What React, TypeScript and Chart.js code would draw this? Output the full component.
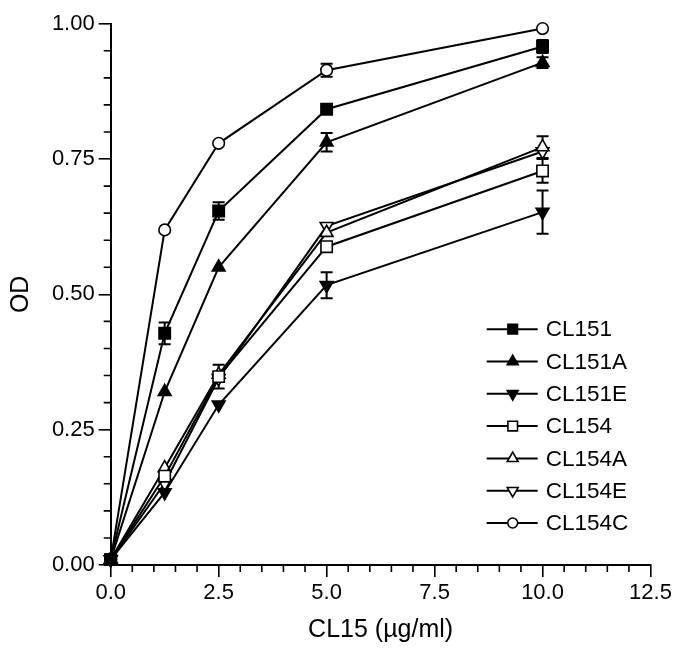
import { useEffect, useRef } from 'react';
import { Chart, registerables } from 'chart.js';
import { drawPoint } from 'chart.js/helpers';

Chart.register(...registerables);

// ---- data ----
const concentrations = [0, 1.25, 2.5, 5, 10];
const seriesNames = ['CL151', 'CL151A', 'CL151E', 'CL154', 'CL154A', 'CL154E', 'CL154C'];

const cl151 = [0.01, 0.428, 0.654, 0.842, 0.958];
const cl151Err = [0, 0.02, 0.016, 0.005, 0.012];
const cl151A = [0.01, 0.32, 0.55, 0.781, 0.928];
const cl151AErr = [0, 0, 0, 0.017, 0.01];
const cl151E = [0.01, 0.134, 0.296, 0.517, 0.652];
const cl151EErr = [0, 0, 0, 0.024, 0.04];
const cl154 = [0.01, 0.164, 0.348, 0.588, 0.728];
const cl154Err = [0, 0.01, 0.022, 0, 0.022];
const cl154A = [0.01, 0.179, 0.352, 0.614, 0.772];
const cl154AErr = [0, 0, 0, 0, 0.02];
const cl154E = [0.01, 0.151, 0.345, 0.626, 0.764];
const cl154EErr = [0, 0, 0, 0, 0];
const cl154C = [0.01, 0.619, 0.779, 0.914, 0.991];
const cl154CErr = [0, 0, 0, 0.012, 0];

const xTickLabels = ['0.0', '2.5', '5.0', '7.5', '10.0', '12.5'];
const yTickLabels = ['0.00', '0.25', '0.50', '0.75', '1.00'];

const seriesValues = [cl151, cl151A, cl151E, cl154, cl154A, cl154E, cl154C];
const seriesErrors = [cl151Err, cl151AErr, cl151EErr, cl154Err, cl154AErr, cl154EErr, cl154CErr];

// ---- styles ----
const markerStyles = [
  { pointStyle: 'rect', fill: '#000', rotation: 0, radius: 8 },
  { pointStyle: 'triangle', fill: '#000', rotation: 0, radius: 7.4 },
  { pointStyle: 'triangle', fill: '#000', rotation: 180, radius: 7.4 },
  { pointStyle: 'rect', fill: '#fff', rotation: 0, radius: 8 },
  { pointStyle: 'triangle', fill: '#fff', rotation: 0, radius: 7.4 },
  { pointStyle: 'triangle', fill: '#fff', rotation: 180, radius: 7.4 },
  { pointStyle: 'circle', fill: '#fff', rotation: 0, radius: 5.8 },
];

const FONT = 'Liberation Sans, Arial, Helvetica, sans-serif';
const LINE_W = 2;

const errorBarPlugin = {
  id: 'errorBars',
  beforeDatasetsDraw(chart: any) {
    const ctx = chart.ctx;
    const xs = chart.scales.x;
    const ys = chart.scales.y;
    ctx.save();
    ctx.strokeStyle = '#000';
    ctx.lineWidth = LINE_W;
    seriesValues.forEach((vals, i) => {
      vals.forEach((v, j) => {
        const e = seriesErrors[i][j];
        if (!e) return;
        const x = xs.getPixelForValue(concentrations[j]);
        const yTop = ys.getPixelForValue(v + e);
        const yBot = ys.getPixelForValue(v - e);
        ctx.beginPath();
        ctx.moveTo(x, yTop);
        ctx.lineTo(x, yBot);
        ctx.moveTo(x - 6, yTop);
        ctx.lineTo(x + 6, yTop);
        ctx.moveTo(x - 6, yBot);
        ctx.lineTo(x + 6, yBot);
        ctx.stroke();
      });
    });
    ctx.restore();
  },
};

const minorTickPlugin = {
  id: 'minorTicks',
  afterDraw(chart: any) {
    const ctx = chart.ctx;
    const xs = chart.scales.x;
    const ys = chart.scales.y;
    const { left, bottom } = chart.chartArea;
    ctx.save();
    ctx.strokeStyle = '#000';
    ctx.lineWidth = 1.6;
    ctx.beginPath();
    for (let k = 1; k < 25; k++) {
      if (k % 5 === 0) continue;
      const x = xs.getPixelForValue(k * 0.5);
      ctx.moveTo(x, bottom);
      ctx.lineTo(x, bottom + 7);
    }
    for (let k = 1; k < 20; k++) {
      if (k % 5 === 0) continue;
      const y = ys.getPixelForValue(k * 0.05);
      ctx.moveTo(left, y);
      ctx.lineTo(left - 7, y);
    }
    ctx.stroke();
    ctx.restore();
  },
};

const legendPlugin = {
  id: 'insetLegend',
  afterDraw(chart: any) {
    const ctx = chart.ctx;
    const { left, top } = chart.chartArea;
    const xm = left + 402;
    const x0 = xm - 26;
    const x1 = xm + 25;
    const tx = xm + 33;
    const y0 = top + 305.5;
    const dy = 32.3;
    ctx.save();
    ctx.font = `22.5px ${FONT}`;
    ctx.textBaseline = 'middle';
    ctx.textAlign = 'left';
    seriesNames.forEach((name, i) => {
      const y = y0 + i * dy;
      const st = markerStyles[i];
      ctx.strokeStyle = '#000';
      ctx.lineWidth = LINE_W;
      ctx.beginPath();
      ctx.moveTo(x0, y);
      ctx.lineTo(x1, y);
      ctx.stroke();
      ctx.fillStyle = st.fill;
      ctx.lineWidth = 1.6;
      drawPoint(ctx, { pointStyle: st.pointStyle as any, rotation: st.rotation, radius: st.radius * 0.85, borderWidth: 1.6 }, xm, y);
      ctx.fillStyle = '#000';
      ctx.fillText(name, tx, y + 1);
    });
    ctx.restore();
  },
};

export default function App() {
  const ref = useRef<HTMLCanvasElement | null>(null);

  useEffect(() => {
    if (!ref.current) return;
    Chart.defaults.font.family = FONT;
    Chart.defaults.color = '#000';

    const datasets = seriesNames.map((name, i) => ({
      label: name,
      data: concentrations.map((c, j) => ({ x: c, y: seriesValues[i][j] })),
      showLine: true,
      borderColor: '#000',
      borderWidth: LINE_W,
      backgroundColor: markerStyles[i].fill,
      pointStyle: markerStyles[i].pointStyle as any,
      pointRotation: markerStyles[i].rotation,
      pointRadius: markerStyles[i].radius,
      pointBackgroundColor: markerStyles[i].fill,
      pointBorderColor: '#000',
      pointBorderWidth: 1.6,
      tension: 0,
      clip: false as any,
    }));

    const chart = new Chart(ref.current, {
      type: 'scatter',
      data: { datasets },
      plugins: [errorBarPlugin, minorTickPlugin, legendPlugin],
      options: {
        animation: false,
        responsive: false,
        devicePixelRatio: 1,
        layout: { padding: { left: 0, right: 31.5, top: 23.7, bottom: 0 } },
        plugins: { legend: { display: false }, tooltip: { enabled: false } },
        scales: {
          x: {
            type: 'linear',
            min: 0,
            max: 12.5,
            afterFit(scale: any) { scale.height = 87; },
            afterBuildTicks(scale: any) {
              scale.ticks = xTickLabels.map((_, k) => ({ value: k * 2.5 }));
            },
            ticks: {
              font: { size: 22 },
              color: '#000',
              padding: 3,
              maxRotation: 0,
              callback: (_v: any, idx: number) => xTickLabels[idx],
            },
            grid: { display: true, drawOnChartArea: false, drawTicks: true, tickLength: 12, color: '#000', lineWidth: 1.6 },
            border: { display: true, color: '#000', width: 2 },
            title: { display: true, text: 'CL15 (µg/ml)', font: { size: 25 }, color: '#000', padding: { top: 0, bottom: 7 } },
          },
          y: {
            type: 'linear',
            min: 0,
            max: 1,
            afterFit(scale: any) { scale.width = 110.7; },
            afterBuildTicks(scale: any) {
              scale.ticks = yTickLabels.map((_, k) => ({ value: k * 0.25 }));
            },
            ticks: {
              font: { size: 22 },
              color: '#000',
              padding: 4,
              callback: (_v: any, idx: number) => yTickLabels[idx],
            },
            grid: { display: true, drawOnChartArea: false, drawTicks: true, tickLength: 12, color: '#000', lineWidth: 1.6 },
            border: { display: true, color: '#000', width: 2 },
            title: { display: true, text: 'OD', font: { size: 25 }, color: '#000', padding: { top: 6, bottom: 0 } },
          },
        },
      },
    });
    return () => chart.destroy();
  }, []);

  return (
    <div style={{ position: 'fixed', left: 0, top: 0, width: 682, height: 652, background: '#fff' }}>
      <canvas ref={ref} width={682} height={652} style={{ display: 'block' }} />
    </div>
  );
}
